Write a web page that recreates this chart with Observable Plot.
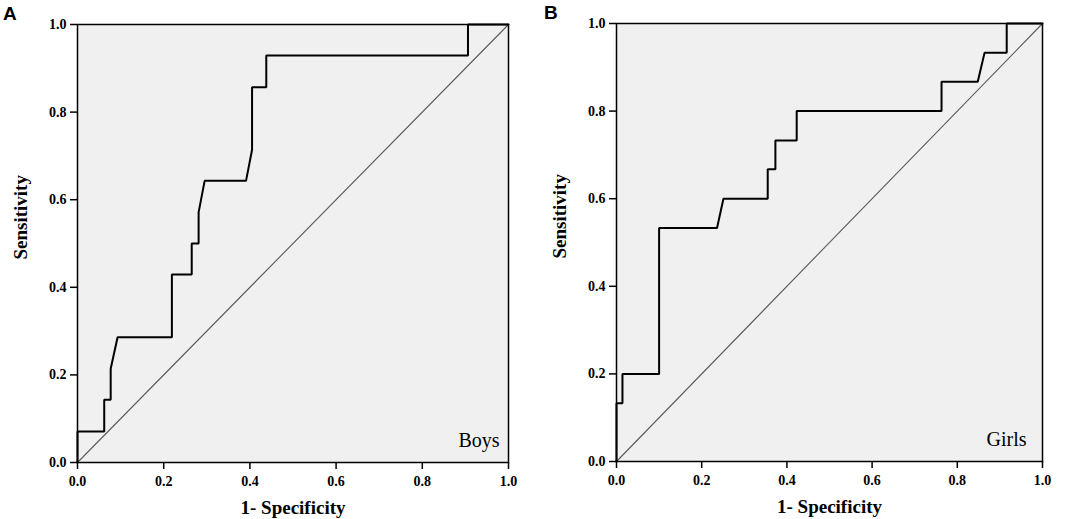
<!DOCTYPE html>
<html>
<head>
<meta charset="utf-8">
<script src="https://cdn.jsdelivr.net/npm/d3@7"></script>
<script src="https://cdn.jsdelivr.net/npm/@observablehq/plot@0.6"></script>
<style>
  html, body { margin: 0; padding: 0; background: #fff; }
  #wrap { position: relative; width: 1065px; height: 519px; overflow: hidden; }
  .panel { position: absolute; top: 0; }
  .tag { position: absolute; z-index: 2; font-family: "Liberation Sans", Arial, sans-serif; font-weight: bold; font-size: 19px; line-height: 1; }
</style>
</head>
<body>
<div id="wrap">
  <div class="tag" style="left:3px; top:4px;">A</div>
  <div class="tag" style="left:544px; top:3px;">B</div>
</div>
<script>
// Boys ROC curve (1 - specificity, sensitivity)
const boysFpr  = [0, 0, 0.062, 0.062, 0.077, 0.077, 0.093, 0.219, 0.219, 0.265, 0.265, 0.281, 0.281, 0.295, 0.391, 0.405, 0.405, 0.438, 0.438, 0.906, 0.906, 1];
const boysTpr  = [0, 0.071, 0.071, 0.143, 0.143, 0.214, 0.286, 0.286, 0.429, 0.429, 0.5, 0.5, 0.571, 0.643, 0.643, 0.714, 0.857, 0.857, 0.929, 0.929, 1, 1];
// Girls ROC curve
const girlsFpr = [0, 0, 0.014, 0.014, 0.100, 0.100, 0.236, 0.251, 0.355, 0.355, 0.373, 0.373, 0.423, 0.423, 0.763, 0.763, 0.848, 0.864, 0.916, 0.916, 1];
const girlsTpr = [0, 0.133, 0.133, 0.2, 0.2, 0.533, 0.533, 0.6, 0.6, 0.667, 0.667, 0.733, 0.733, 0.8, 0.8, 0.867, 0.867, 0.933, 0.933, 1, 1];
// Reference diagonal
const diagonal = [0, 1];
const ticks = [0, 0.2, 0.4, 0.6, 0.8, 1.0];
const tickLabels = ["0.0", "0.2", "0.4", "0.6", "0.8", "1.0"];

const serif = "Liberation Serif";

function panel(fpr, tpr, name, opts) {
  const data = fpr.map((x, i) => ({x, y: tpr[i]}));
  const tickData = ticks.map((v, i) => ({v, label: tickLabels[i]}));
  const pw = opts.width - opts.ml - opts.mr;
  const ph = 519 - opts.mt - opts.mb;
  const lab = {fontSize: 14, fontWeight: "bold", fontFamily: serif, fill: "#000", text: "label"};
  return Plot.plot({
    width: opts.width,
    height: 519,
    marginLeft: opts.ml,
    marginRight: opts.mr,
    marginTop: opts.mt,
    marginBottom: opts.mb,
    style: {background: "transparent", color: "#000"},
    x: {domain: [0, 1], axis: null},
    y: {domain: [0, 1], axis: null},
    marks: [
      Plot.frame({fill: "#f0f0f0", stroke: null}),
      Plot.line(diagonal, {x: d => d, y: d => d, stroke: "#5a5a5a", strokeWidth: 1.1}),
      Plot.line(data, {x: "x", y: "y", stroke: "#000", strokeWidth: 2, strokeLinejoin: "miter"}),
      Plot.frame({stroke: "#000", strokeWidth: 1.5}),
      Plot.tickX(tickData, {x: "v", insetTop: ph, insetBottom: -7, stroke: "#000", strokeWidth: 1.5}),
      Plot.tickY(tickData, {y: "v", insetRight: pw, insetLeft: -7, stroke: "#000", strokeWidth: 1.5}),
      Plot.text(tickData, {x: "v", frameAnchor: "bottom", dy: 23, lineAnchor: "bottom", textAnchor: "middle", ...lab}),
      Plot.text(tickData, {y: "v", frameAnchor: "left", dx: -11, lineAnchor: "middle", textAnchor: "end", ...lab}),
      Plot.text(["1- Specificity"], {frameAnchor: "bottom", text: d => d, dy: 51, lineAnchor: "bottom", fontSize: 19, fontWeight: "bold", fontFamily: serif, fill: "#000"}),
      Plot.text(["Sensitivity"], {frameAnchor: "left", text: d => d, dx: -51, dy: 16, rotate: -90, lineAnchor: "bottom", fontSize: 19, fontWeight: "bold", fontFamily: serif, fill: "#000"}),
      Plot.text([name], {frameAnchor: "bottom-right", text: d => d, dx: opts.ndx, dy: -16, textAnchor: "end", lineAnchor: "bottom", fontSize: 20, fontWeight: "normal", fontFamily: serif, fill: "#000"})
    ]
  });
}

const wrap = document.getElementById("wrap");
const a = panel(boysFpr, boysTpr, "Boys", {width: 530, ml: 77, mr: 22, mt: 24, mb: 57, ndx: -9});
a.classList.add("panel"); a.style.left = "0px";
const b = panel(girlsFpr, girlsTpr, "Girls", {width: 535, ml: 86, mr: 23, mt: 23, mb: 58, ndx: -16});
b.classList.add("panel"); b.style.left = "530px";
wrap.appendChild(a);
wrap.appendChild(b);
</script>
</body>
</html>
